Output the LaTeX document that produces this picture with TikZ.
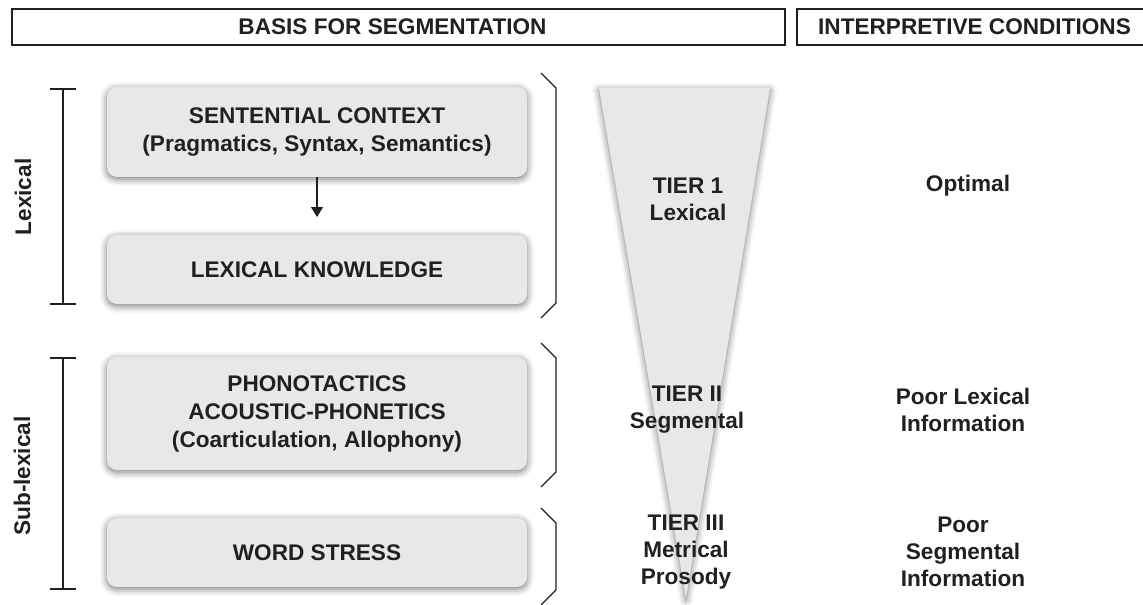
\documentclass[tikz,border=0pt]{standalone}
\usepackage{fontspec}
\setmainfont{Liberation Sans}
\usetikzlibrary{arrows.meta,shadows.blur}
\definecolor{inkgray}{HTML}{231F20}
\definecolor{boxgray}{HTML}{E8E8E8}
\begin{document}
\begin{tikzpicture}[x=0.5pt,y=-0.5pt]
	\tikzstyle{every node}+=[font=\bfseries\fontsize{11.3}{14}\selectfont, text=inkgray, align=center]
	\tikzstyle{headbox}=[draw=inkgray, line width=0.6pt, minimum height=18pt, inner sep=0pt]
	\tikzstyle{segbox}=[fill=boxgray, rounded corners=5pt, minimum width=210pt, inner sep=0pt,
		blur shadow={shadow xshift=0pt, shadow yshift=-1pt, shadow blur radius=3.5pt, shadow opacity=55}]
	\tikzstyle{bracket}=[draw=inkgray, line width=0.55pt]
	\tikzstyle{tiertext}=[font=\bfseries\fontsize{11.3}{13.5}\selectfont]
	\useasboundingbox (0,0) rectangle (1143,604);
	% column headers
	\node [headbox, minimum width=386.5pt] (basis) at (398.5,27) {\hspace*{-6pt}BASIS FOR SEGMENTATION};
	\node [headbox, minimum width=176.5pt] (interp) at (973.5,27) {\hspace*{1pt}INTERPRETIVE CONDITIONS};
	% tier wedge
	\coordinate (wedgel) at (599,88);
	\coordinate (wedger) at (770,88);
	\coordinate (wedgetip) at (686,598);
	\fill [boxgray, blur shadow={shadow xshift=0pt, shadow yshift=-1pt, shadow blur radius=3.5pt, shadow opacity=55}]
		(wedgel) -- (wedger) -- (wedgetip) -- cycle;
	% basis boxes
	\node [segbox, minimum height=45pt] (sentctx) at (317,132) {SENTENTIAL CONTEXT\\(Pragmatics, Syntax, Semantics)};
	\node [segbox, minimum height=34.5pt] (lexknow) at (317,269.5) {LEXICAL KNOWLEDGE};
	\node [segbox, minimum height=56.5pt] (phono) at (317,413.5) {PHONOTACTICS\\ACOUSTIC-PHONETICS\\(Coarticulation, Allophony)};
	\node [segbox, minimum height=34.5pt] (wstress) at (317,552.5) {WORD STRESS};
	\coordinate (arrowend) at (317,217);
	\draw [inkgray, line width=0.65pt, -{Triangle[length=5pt,width=6pt]}] (sentctx.south) -- (arrowend);
	% left level brackets
	\draw [bracket] (50,89) -- (76,89) (63,89) -- (63,304) (50,304) -- (76,304);
	\node [rotate=90] (lexlab) at (23,197) {Lexical};
	\draw [bracket] (50,358) -- (76,358) (63,358) -- (63,589) (50,589) -- (76,589);
	\node [rotate=90] (sublexlab) at (22,476) {Sub-lexical};
	% right angle braces
	\draw [bracket] (541,73) -- (556,88) -- (556,303) -- (541,318);
	\draw [bracket] (541,343) -- (556,358) -- (556,472) -- (541,487);
	\draw [bracket] (541,508) -- (556,523) -- (556,590) -- (541,605);
	% tiers
	\node [tiertext] (tierone) at (688,199) {TIER 1\\Lexical};
	\node [tiertext] (tiertwo) at (687,410) {TIER II\\Segmental};
	\node [tiertext] (tierthree) at (686,552) {TIER III\\Metrical\\Prosody};
	% interpretive conditions
	\node [tiertext] (optimal) at (968,186) {Optimal};
	\node [tiertext] (poorlex) at (963,410) {Poor Lexical\\Information};
	\node [tiertext] (poorseg) at (963,552) {Poor\\Segmental\\Information};
\end{tikzpicture}
\end{document}
